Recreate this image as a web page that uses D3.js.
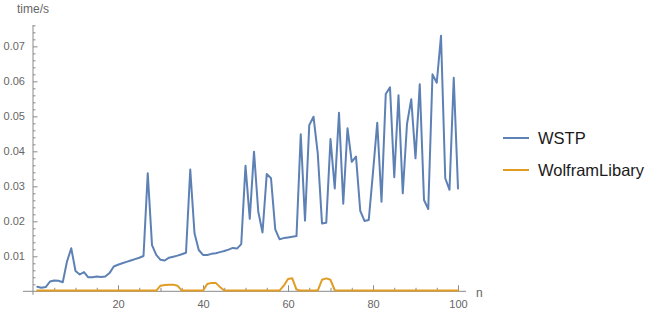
<!DOCTYPE html>
<html>
<head>
<meta charset="utf-8">
<script src="https://cdn.jsdelivr.net/npm/d3@7"></script>
<style>
  body { margin: 0; background: #fff; }
  svg { font-family: "Liberation Sans", Arial, sans-serif; }
</style>
</head>
<body>
<div class="chartContainer"></div>
<script>
// n = 1..100
var wstp = [
  0.0013, 0.0010, 0.0012, 0.0028, 0.0031, 0.0030, 0.0026, 0.0085, 0.0123, 0.0058,
  0.0048, 0.0055, 0.0040, 0.0040, 0.0042, 0.0041, 0.0042, 0.0052, 0.0071, 0.0076,
  0.0080, 0.0084, 0.0088, 0.0092, 0.0096, 0.0101, 0.0337, 0.0132, 0.0104, 0.0090,
  0.0088, 0.0096, 0.0099, 0.0102, 0.0106, 0.0110, 0.0348, 0.0166, 0.0118, 0.0104,
  0.0104, 0.0107, 0.0109, 0.0112, 0.0115, 0.0119, 0.0124, 0.0122, 0.0135, 0.0359,
  0.0207, 0.0399, 0.0228, 0.0168, 0.0335, 0.0323, 0.0177, 0.0149, 0.0152, 0.0154,
  0.0156, 0.0158, 0.0449, 0.0202, 0.0475, 0.0499, 0.0394, 0.0194, 0.0196, 0.0435,
  0.0294, 0.0510, 0.0250, 0.0466, 0.0370, 0.0385, 0.0230, 0.0201, 0.0204, 0.0340,
  0.0482, 0.0256, 0.0564, 0.0583, 0.0326, 0.0560, 0.0280, 0.0478, 0.0549, 0.0380,
  0.0592, 0.0261, 0.0235, 0.0620, 0.0596, 0.0730, 0.0323, 0.0290, 0.0610, 0.0294
];

var wolframLibrary = [
  0.0002, 0.0002, 0.0002, 0.0002, 0.0002, 0.0002, 0.0002, 0.0002, 0.0002, 0.0002,
  0.0002, 0.0002, 0.0002, 0.0002, 0.0002, 0.0002, 0.0002, 0.0002, 0.0002, 0.0002,
  0.0002, 0.0002, 0.0002, 0.0002, 0.0002, 0.0002, 0.0002, 0.0002, 0.0002, 0.0016,
  0.0018, 0.0019, 0.0019, 0.0016, 0.0002, 0.0002, 0.0002, 0.0002, 0.0002, 0.0002,
  0.0021, 0.0024, 0.0024, 0.0012, 0.0002, 0.0002, 0.0002, 0.0002, 0.0002, 0.0002,
  0.0002, 0.0002, 0.0002, 0.0002, 0.0002, 0.0002, 0.0002, 0.0002, 0.0016, 0.0035,
  0.0037, 0.0005, 0.0002, 0.0002, 0.0002, 0.0002, 0.0002, 0.0033, 0.0037, 0.0033,
  0.0003, 0.0002, 0.0002, 0.0002, 0.0002, 0.0002, 0.0002, 0.0002, 0.0002, 0.0002,
  0.0002, 0.0002, 0.0002, 0.0002, 0.0002, 0.0002, 0.0002, 0.0002, 0.0002, 0.0002,
  0.0002, 0.0002, 0.0002, 0.0002, 0.0002, 0.0002, 0.0002, 0.0002, 0.0002, 0.0002
];

var seriesNames = ["WSTP", "WolframLibary"];
var seriesColors = ["#5e81b5", "#e19c24"];
var xMajorTicks = [20, 40, 60, 80, 100];
var yMajorTicks = [0.01, 0.02, 0.03, 0.04, 0.05, 0.06, 0.07];

var x = d3.scaleLinear().domain([0, 100]).range([33, 458]);
var y = d3.scaleLinear().domain([0, 0.0761]).range([291.3, 25]);

var svg = d3.select(".chartContainer")
    .append("svg")
    .attr("width", 672)
    .attr("height", 322);

var axisColor = "#8a8a8a";
var labelColor = "#666";

// axis lines (Mathematica style, crossing at the origin)
svg.append("line")
    .attr("x1", x(-2.35)).attr("x2", x(101.9))
    .attr("y1", y(0)).attr("y2", y(0))
    .attr("stroke", axisColor).attr("stroke-width", 1);
svg.append("line")
    .attr("x1", x(0)).attr("x2", x(0))
    .attr("y1", y(0) + 3.5).attr("y2", y(0.0761))
    .attr("stroke", axisColor).attr("stroke-width", 1);

// x minor ticks
var xMinor = d3.range(5, 101, 5).filter(function(d){ return d % 20 !== 0; });
svg.append("g")
    .attr("transform", "translate(0," + y(0) + ")")
    .call(d3.axisBottom(x).tickValues(xMinor).tickSize(-3.5).tickFormat(""))
    .call(function(g){ g.select(".domain").remove(); });

// x major ticks + labels
var gx = svg.append("g")
    .attr("transform", "translate(0," + y(0) + ")")
    .call(d3.axisBottom(x).tickValues(xMajorTicks).tickSize(-6).tickPadding(9).tickFormat(d3.format("d")));
gx.select(".domain").remove();

// y minor ticks
var yMinor = d3.range(1, 39).map(function(i){ return i * 0.002; }).filter(function(d){ return Math.abs(d * 100 - Math.round(d * 100)) > 1e-6; });
svg.append("g")
    .attr("transform", "translate(" + x(0) + ",0)")
    .call(d3.axisLeft(y).tickValues(yMinor).tickSize(-2.5).tickFormat(""))
    .call(function(g){ g.select(".domain").remove(); });

// y major ticks + labels
var gy = svg.append("g")
    .attr("transform", "translate(" + x(0) + ",0)")
    .call(d3.axisLeft(y).tickValues(yMajorTicks).tickSize(-4.5).tickPadding(8).tickFormat(d3.format(".2f")));
gy.select(".domain").remove();

svg.selectAll(".tick line").attr("stroke", axisColor);
svg.selectAll(".tick text")
    .attr("fill", labelColor)
    .style("font-size", "11px")
    .style("font-family", "'Liberation Sans', Arial, sans-serif");

// axis labels
svg.append("text")
    .attr("x", 17).attr("y", 13)
    .attr("fill", labelColor)
    .style("font-size", "12px")
    .text("time/s");
svg.append("text")
    .attr("x", 476).attr("y", 297)
    .attr("fill", labelColor)
    .style("font-size", "12px")
    .text("n");

// lines
var line = d3.line()
    .x(function(d, i){ return x(i + 1); })
    .y(function(d){ return y(d); });

[wstp, wolframLibrary].forEach(function(series, k){
    svg.append("path")
        .datum(series)
        .attr("fill", "none")
        .attr("stroke", seriesColors[k])
        .attr("stroke-width", 2)
        .attr("stroke-linejoin", "round")
        .attr("stroke-linecap", "round")
        .attr("d", line);
});

// legend
var legend = svg.selectAll(".legendItem")
    .data(seriesNames)
    .enter()
    .append("g")
    .attr("class", "legendItem")
    .attr("transform", function(d, i){ return "translate(503," + (138 + i * 32) + ")"; });

legend.append("line")
    .attr("x1", 0).attr("x2", 26)
    .attr("y1", 0).attr("y2", 0)
    .attr("stroke", function(d, i){ return seriesColors[i]; })
    .attr("stroke-width", 2);

legend.append("text")
    .attr("x", 35).attr("y", 6)
    .attr("fill", "#1a1a1a")
    .style("font-size", "16.5px")
    .text(function(d){ return d; });
</script>
</body>
</html>
